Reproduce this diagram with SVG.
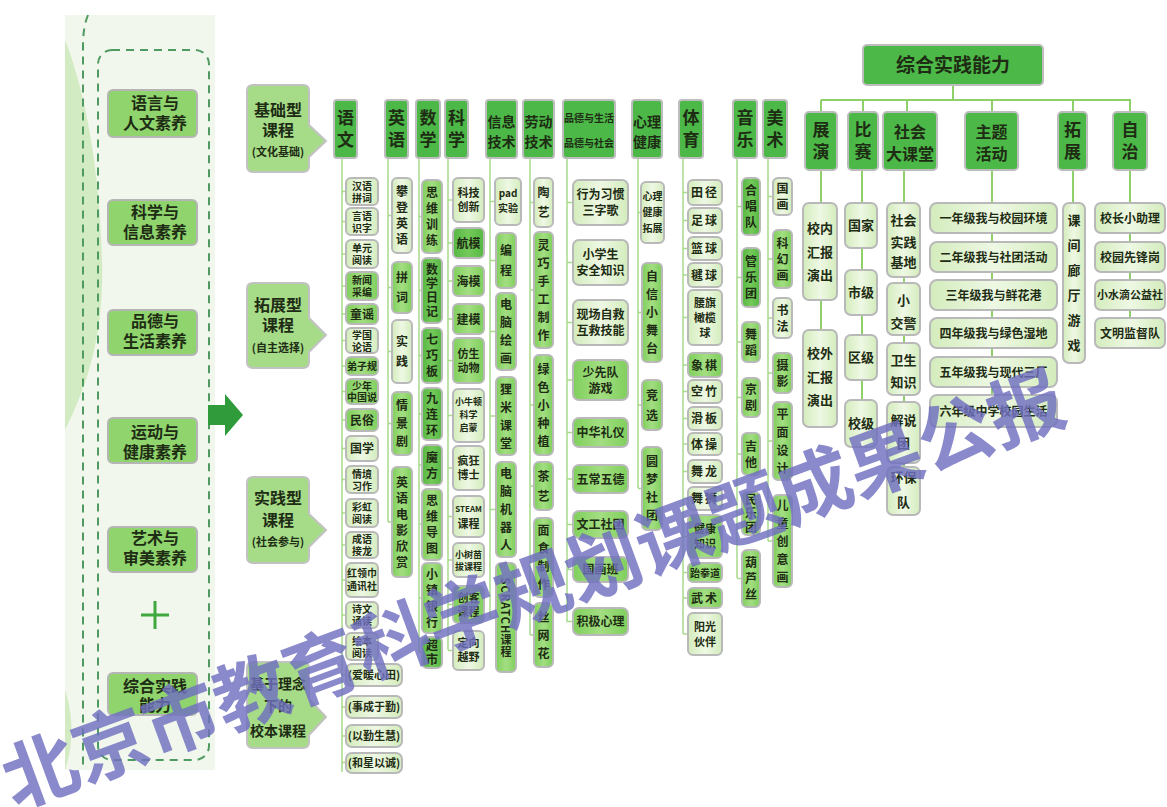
<svg xmlns="http://www.w3.org/2000/svg" width="1167" height="807" viewBox="0 0 1167 807">
<defs>
<linearGradient id="gl" x1="0" y1="0" x2="1" y2="0"><stop offset="0" stop-color="#d3ecbc"/><stop offset="0.5" stop-color="#eef8e4"/><stop offset="1" stop-color="#d3ecbc"/></linearGradient>
<linearGradient id="gm" x1="0" y1="0" x2="1" y2="0"><stop offset="0" stop-color="#7fcf5c"/><stop offset="0.5" stop-color="#a3de82"/><stop offset="1" stop-color="#7fcf5c"/></linearGradient>
<linearGradient id="gd" x1="0" y1="0" x2="1" y2="0"><stop offset="0" stop-color="#56b843"/><stop offset="0.5" stop-color="#74c95a"/><stop offset="1" stop-color="#56b843"/></linearGradient>
<style>
text{font-family:"Noto Sans CJK SC","Noto Sans",sans-serif;fill:#1e2c14;font-weight:700;text-anchor:middle}
.hd{fill:#4cb848;stroke:#bdbdbd;stroke-width:2}
.it{fill:url(#gl);stroke:#b9b9b9;stroke-width:2}
.im{fill:url(#gm);stroke:#b9b9b9;stroke-width:2}
.id{fill:url(#gd);stroke:#b9b9b9;stroke-width:2}
.lb{fill:#8fd46c;stroke:#b5b5b5;stroke-width:2}
.bb{fill:#a6dc88;stroke:#c2c2c2;stroke-width:2}
.ln{stroke:#a8da8c;stroke-width:1.5;fill:none}
.rl{stroke:#8fd06a;stroke-width:2;fill:none}
.dash{fill:none;stroke:#4f9a60;stroke-width:2;stroke-dasharray:8 6}
.v{writing-mode:vertical-rl;font-size:12px}
.v2{letter-spacing:2px}.v4{letter-spacing:4px}.v6{letter-spacing:6px}.v8{letter-spacing:8px}
.s{font-size:11px}.s10{font-size:10px}.s9{font-size:9px}.s12{font-size:12px}.s13{font-size:13px}
.hv{writing-mode:vertical-rl;font-size:17px;letter-spacing:5px}
.h14{font-size:14px}
.lt{font-size:16px}
.bt{font-size:16px}
</style>
</defs>
<rect width="1167" height="807" fill="#ffffff"/>

<g id="left-panel">
<rect x="65" y="15" width="150" height="755" fill="#f1f7ec"/>
<path d="M65 40 C85 90 100 170 102 260 C104 330 90 380 65 430 Z" fill="#d3ebc3"/>
<path d="M65 690 C75 720 72 750 65 770 Z" fill="#d3ebc3"/>
<path class="dash" d="M88 15 C84 25 83 35 83 47 V770"/>
<rect class="dash" x="98" y="50" width="111" height="710" rx="14"/>
</g>

<g id="n-yuyan"><rect class="lb" x="108" y="90" width="89" height="47" rx="5"/><text class="lt" x="155" y="109">语言与<tspan x="155" y="129">人文素养</tspan></text></g>
<g id="n-kexue"><rect class="lb" x="108" y="200" width="89" height="45" rx="5"/><text class="lt" x="155" y="218">科学与<tspan x="155" y="238">信息素养</tspan></text></g>
<g id="n-pinde"><rect class="lb" x="108" y="310" width="89" height="45" rx="5"/><text class="lt" x="155" y="327">品德与<tspan x="155" y="347">生活素养</tspan></text></g>
<g id="n-yundong"><rect class="lb" x="108" y="418" width="89" height="45" rx="5"/><text class="lt" x="155" y="438">运动与<tspan x="155" y="458">健康素养</tspan></text></g>
<g id="n-yishu"><rect class="lb" x="108" y="527" width="89" height="45" rx="5"/><text class="lt" x="155" y="544">艺术与<tspan x="155" y="564">审美素养</tspan></text></g>
<g id="n-plus"><path d="M141 615 H169 M155 601 V629" stroke="#3fa83f" stroke-width="3"/></g>
<g id="n-zonghe"><rect class="lb" x="108" y="673" width="89" height="42" rx="5"/><text class="lt" x="155" y="692">综合实践<tspan x="155" y="711">能力</tspan></text></g>

<g id="big-arrow"><path d="M208 405 H225 V394 L243 415 L225 436 V425 H208 Z" fill="#2f9b3b"/></g>

<g id="b-jichu"><path class="bb" d="M253 85 H303 Q309 85 309 91 V125 L326 141 L309 157 V166 Q309 172 303 172 H253 Q247 172 247 166 V91 Q247 85 253 85 Z"/><text class="bt" x="278" y="116">基础型<tspan x="278" y="136">课程</tspan><tspan x="278" y="156" style="font-size:11px">(文化基础)</tspan></text></g>
<g id="b-tuozhan"><path class="bb" d="M253 283 H303 Q309 283 309 289 V318 L326 335 L309 352 V362 Q309 368 303 368 H253 Q247 368 247 362 V289 Q247 283 253 283 Z"/><text class="bt" x="278" y="311">拓展型<tspan x="278" y="331">课程</tspan><tspan x="278" y="352" style="font-size:11px">(自主选择)</tspan></text></g>
<g id="b-shijian"><path class="bb" d="M253 477 H303 Q309 477 309 483 V514 L326 530 L309 547 V557 Q309 563 303 563 H253 Q247 563 247 557 V483 Q247 477 253 477 Z"/><text class="bt" x="278" y="504">实践型<tspan x="278" y="526">课程</tspan><tspan x="278" y="546" style="font-size:11px">(社会参与)</tspan></text></g>
<g id="b-xiaoben"><path class="bb" d="M253 662 H303 Q309 662 309 668 V699 L326 717 L309 735 V742 Q309 748 303 748 H253 Q247 748 247 742 V668 Q247 662 253 662 Z"/><text x="278" y="689" style="font-size:14px">基于理念<tspan x="278" y="711">下的</tspan><tspan x="278" y="736">校本课程</tspan></text></g>

<g id="connectors">
<path class="ln" d="M342 158V772 M388 158V522 M419 158V652 M448 158V650 M490 158V618 M530 158V635 M567 158V622 M638 158V488 M683 158V634 M737 158V578 M768 158V541"/>
<path class="ln" d="M342 191.5H346M342 221.5H346M342 254H346M342 286H346M342 314H346M342 340.5H346M342 366H346M342 391.5H346M342 420H346M342 448.5H346M342 479.5H346M342 513H346M342 545H346M342 580H346M342 615H346M342 646.5H346M342 675H346M342 707H346M342 736H346M342 762.5H346
M388 215.5H392M388 287.5H392M388 351.5H392M388 423.5H392M388 522H392
M419 216.5H422M419 290.5H422M419 355.5H422M419 414H422M419 465H422M419 524H422M419 598H422M419 652.5H422
M448 200H453M448 243H453M448 281H453M448 319H453M448 360.5H453M448 415.5H453M448 468H453M448 516.5H453M448 560H453M448 604.5H453M448 650.5H453
M490 201.5H495M490 260.5H496M490 331.5H496M490 416H496M490 509.5H496M490 617.5H496
M530 202.5H534M530 290H534M530 405H534M530 486H534M530 557.5H534M530 635H534
M567 202.5H573M567 262.5H573M567 322.5H573M567 380H573M567 432.5H573M567 479H573M567 524.5H573M567 569.5H573M567 621.5H573
M638 212.5H641M638 312.5H642M638 405H642M638 488.5H642
M683 192.5H688M683 220.5H688M683 248.5H688M683 275H688M683 317.5H688M683 365H688M683 391.5H688M683 418.5H688M683 444H688M683 471.5H688M683 498.5H688M683 536.5H688M683 572.5H688M683 598H688M683 634H688
M737 206.5H742M737 277.5H742M737 342H742M737 397.5H742M737 454H742M737 513.5H742M737 578.5H742
M768 196.5H773M768 259H773M768 318H773M768 373H773M768 441H773M768 541H773"/>
<path class="rl" d="M953 85V100 M821 100H1131 M821 100V112 M863 100V112 M907 100V112 M992 100V112 M1073 100V112 M1130 100V112 M821 170V203 M821 300V330 M862 170V447 M904 170V515 M992 170V427 M1073 170V203 M1130 170V348"/>
</g>

<g id="h-yuwen"><rect class="hd" x="334" y="100" width="23" height="58" rx="3"/><text class="hv" x="345.5" y="131.5">语文</text></g>
<g id="h-yingyu"><rect class="hd" x="385" y="100" width="23" height="58" rx="3"/><text class="hv" x="396.5" y="131.5">英语</text></g>
<g id="h-shuxue"><rect class="hd" x="416" y="100" width="24" height="58" rx="3"/><text class="hv" x="428" y="131.5">数学</text></g>
<g id="h-kexue"><rect class="hd" x="445" y="100" width="23" height="58" rx="3"/><text class="hv" x="456.5" y="131.5">科学</text></g>
<g id="h-xinxi"><rect class="hd" x="486" y="100" width="31" height="58" rx="3"/><text class="h14" x="501.5" y="127">信息<tspan x="501.5" y="147">技术</tspan></text></g>
<g id="h-laodong"><rect class="hd" x="523" y="100" width="31" height="58" rx="3"/><text class="h14" x="538.5" y="127">劳动<tspan x="538.5" y="147">技术</tspan></text></g>
<g id="h-pinde"><rect class="hd" x="563" y="100" width="52" height="58" rx="3"/><text class="s10" x="589" y="122">品德与生活<tspan x="589" y="147">品德与社会</tspan></text></g>
<g id="h-xinli"><rect class="hd" x="632" y="100" width="30" height="58" rx="3"/><text class="h14" x="647" y="127">心理<tspan x="647" y="147">健康</tspan></text></g>
<g id="h-tiyu"><rect class="hd" x="679" y="100" width="24" height="58" rx="3"/><text class="hv" x="691" y="131.5">体育</text></g>
<g id="h-yinyue"><rect class="hd" x="733" y="100" width="24" height="58" rx="3"/><text class="hv" x="745" y="131.5">音乐</text></g>
<g id="h-meishu"><rect class="hd" x="763" y="100" width="24" height="58" rx="3"/><text class="hv" x="775" y="131.5">美术</text></g>

<g id="yw1"><rect class="it" x="346" y="178" width="32" height="27" rx="5"/><text class="s10" x="362" y="189.5">汉语<tspan x="362" y="201.5">拼词</tspan></text></g>
<g id="yw2"><rect class="it" x="346" y="208" width="32" height="27" rx="5"/><text class="s10" x="362" y="219.5">言语<tspan x="362" y="231.5">识字</tspan></text></g>
<g id="yw3"><rect class="it" x="346" y="240" width="32" height="28" rx="5"/><text class="s10" x="362" y="252">单元<tspan x="362" y="264">阅读</tspan></text></g>
<g id="yw4"><rect class="im" x="346" y="272" width="32" height="28" rx="5"/><text class="s10" x="362" y="284">新闻<tspan x="362" y="296">采编</tspan></text></g>
<g id="yw5"><rect class="im" x="346" y="304" width="32" height="20" rx="5"/><text class="s12" x="362" y="318.5">童谣</text></g>
<g id="yw6"><rect class="it" x="346" y="328" width="32" height="25" rx="5"/><text class="s10" x="362" y="338.5">学国<tspan x="362" y="350.5">论语</tspan></text></g>
<g id="yw7"><rect class="im" x="346" y="357" width="32" height="18" rx="5"/><text class="s10" x="362" y="369.5">弟子规</text></g>
<g id="yw8"><rect class="im" x="346" y="379" width="32" height="25" rx="5"/><text class="s10" x="362" y="389.5">少年<tspan x="362" y="401">中国说</tspan></text></g>
<g id="yw9"><rect class="im" x="346" y="409" width="32" height="22" rx="5"/><text class="s12" x="362" y="424.5">民俗</text></g>
<g id="yw10"><rect class="it" x="346" y="436" width="32" height="25" rx="5"/><text class="s12" x="362" y="453">国学</text></g>
<g id="yw11"><rect class="it" x="346" y="466" width="32" height="27" rx="5"/><text class="s10" x="362" y="477.5">情境<tspan x="362" y="489.5">习作</tspan></text></g>
<g id="yw12"><rect class="it" x="346" y="499" width="32" height="28" rx="5"/><text class="s10" x="362" y="511">彩虹<tspan x="362" y="523">阅读</tspan></text></g>
<g id="yw13"><rect class="it" x="346" y="532" width="32" height="26" rx="5"/><text class="s10" x="362" y="543">成语<tspan x="362" y="555">接龙</tspan></text></g>
<g id="yw14"><rect class="it" x="346" y="563" width="32" height="34" rx="5"/><text class="s10" x="362" y="577">红领巾<tspan x="362" y="590">通讯社</tspan></text></g>
<g id="yw15"><rect class="it" x="346" y="602" width="32" height="26" rx="5"/><text class="s10" x="362" y="613">诗文<tspan x="362" y="625">诵读</tspan></text></g>
<g id="yw16"><rect class="it" x="346" y="633" width="32" height="27" rx="5"/><text class="s10" x="362" y="644.5">绘本<tspan x="362" y="656.5">阅读</tspan></text></g>
<g id="xb1"><rect class="it" x="346" y="664" width="56" height="22" rx="6"/><text class="s" x="374" y="679">(爱暖心田)</text></g>
<g id="xb2"><rect class="it" x="346" y="696" width="56" height="22" rx="6"/><text class="s" x="374" y="711">(事成于勤)</text></g>
<g id="xb3"><rect class="it" x="346" y="725" width="56" height="22" rx="6"/><text class="s" x="374" y="740">(以勤生慧)</text></g>
<g id="xb4"><rect class="it" x="346" y="753" width="56" height="20" rx="6"/><text class="s" x="374" y="767">(和星以诚)</text></g>

<g id="yy1"><rect class="it" x="392" y="178" width="20" height="75" rx="5"/><text class="v v4" x="402" y="217.5">攀登英语</text></g>
<g id="yy2"><rect class="im" x="392" y="262" width="20" height="51" rx="5"/><text class="v v8" x="402" y="291.5">拼词</text></g>
<g id="yy3"><rect class="it" x="392" y="320" width="20" height="63" rx="5"/><text class="v v8" x="402" y="355.5">实践</text></g>
<g id="yy4"><rect class="im" x="392" y="392" width="20" height="63" rx="5"/><text class="v v6" x="402" y="426.5">情景剧</text></g>
<g id="yy5"><rect class="im" x="392" y="467" width="20" height="110" rx="5"/><text class="v v4" x="402" y="524">英语电影欣赏</text></g>

<g id="sx1"><rect class="im" x="422" y="180" width="20" height="73" rx="5"/><text class="v v4" x="432" y="218.5">思维训练</text></g>
<g id="sx2"><rect class="id" x="422" y="258" width="20" height="65" rx="5"/><text class="v v2" x="432" y="291.5">数学日记</text></g>
<g id="sx3"><rect class="id" x="422" y="328" width="20" height="55" rx="5"/><text class="v v4" x="432" y="357.5">七巧板</text></g>
<g id="sx4"><rect class="id" x="422" y="388" width="20" height="52" rx="5"/><text class="v v4" x="432" y="416">九连环</text></g>
<g id="sx5"><rect class="id" x="422" y="445" width="20" height="40" rx="5"/><text class="v v4" x="432" y="467">魔方</text></g>
<g id="sx6"><rect class="im" x="422" y="489" width="20" height="71" rx="5"/><text class="v v4" x="432" y="526">思维导图</text></g>
<g id="sx7"><rect class="im" x="422" y="563" width="20" height="70" rx="5"/><text class="v v4" x="432" y="600">小镇银行</text></g>
<g id="sx8"><rect class="id" x="422" y="637" width="20" height="31" rx="5"/><text class="v v2" x="432" y="653.5">超市</text></g>

<g id="kx1"><rect class="it" x="453" y="178" width="31" height="44" rx="5"/><text class="s" x="468.5" y="197">科技<tspan x="468.5" y="211">创新</tspan></text></g>
<g id="kx2"><rect class="id" x="453" y="228" width="31" height="30" rx="5"/><text class="s12" x="468.5" y="247.5">航模</text></g>
<g id="kx3"><rect class="im" x="453" y="266" width="31" height="30" rx="5"/><text class="s12" x="468.5" y="285.5">海模</text></g>
<g id="kx4"><rect class="im" x="453" y="304" width="31" height="30" rx="5"/><text class="s12" x="468.5" y="323.5">建模</text></g>
<g id="kx5"><rect class="im" x="453" y="338" width="31" height="45" rx="5"/><text class="s" x="468.5" y="357.5">仿生<tspan x="468.5" y="371.5">动物</tspan></text></g>
<g id="kx6"><rect class="it" x="453" y="389" width="31" height="53" rx="5"/><text class="s9" x="468.5" y="405">小牛顿<tspan x="468.5" y="418">科学</tspan><tspan x="468.5" y="431">启蒙</tspan></text></g>
<g id="kx7"><rect class="it" x="453" y="446" width="31" height="44" rx="5"/><text class="s" x="468.5" y="465">疯狂<tspan x="468.5" y="479">博士</tspan></text></g>
<g id="kx8"><rect class="it" x="453" y="496" width="31" height="41" rx="5"/><text class="s" x="468.5" y="512"><tspan style="font-size:8px">STEAM</tspan><tspan x="468.5" y="528">课程</tspan></text></g>
<g id="kx9"><rect class="it" x="453" y="543" width="31" height="34" rx="5"/><text class="s9" x="468.5" y="558">小树苗<tspan x="468.5" y="570">拔课程</tspan></text></g>
<g id="kx10"><rect class="im" x="453" y="586" width="31" height="37" rx="5"/><text class="s" x="468.5" y="602">创客<tspan x="468.5" y="616">课程</tspan></text></g>
<g id="kx11"><rect class="it" x="453" y="631" width="31" height="39" rx="5"/><text class="s" x="468.5" y="647">定向<tspan x="468.5" y="661">越野</tspan></text></g>

<g id="xx1"><rect class="it" x="495" y="178" width="26" height="47" rx="5"/><text class="s10" x="508" y="197">pad<tspan x="508" y="212">实验</tspan></text></g>
<g id="xx2"><rect class="im" x="496" y="233" width="20" height="55" rx="5"/><text class="v v8" x="506" y="264.5">编程</text></g>
<g id="xx3"><rect class="im" x="496" y="293" width="20" height="77" rx="5"/><text class="v v6" x="506" y="334.5">电脑绘画</text></g>
<g id="xx4"><rect class="im" x="496" y="377" width="20" height="78" rx="5"/><text class="v v6" x="506" y="419">狸米课堂</text></g>
<g id="xx5"><rect class="im" x="496" y="462" width="20" height="95" rx="5"/><text class="v v6" x="506" y="512.5">电脑机器人</text></g>
<g id="xx6"><rect class="im" x="496" y="563" width="20" height="109" rx="5"/><text class="v" x="506" y="618" style="font-size:11px;letter-spacing:1px">SCRATCH课程</text></g>

<g id="ld1"><rect class="it" x="534" y="178" width="19" height="49" rx="5"/><text class="v v8" x="543.5" y="206.5">陶艺</text></g>
<g id="ld2"><rect class="im" x="534" y="232" width="19" height="116" rx="5"/><text class="v v6" x="543.5" y="293">灵巧手工制作</text></g>
<g id="ld3"><rect class="im" x="534" y="355" width="19" height="100" rx="5"/><text class="v v6" x="543.5" y="408">绿色小种植</text></g>
<g id="ld4"><rect class="im" x="534" y="462" width="19" height="48" rx="5"/><text class="v v8" x="543.5" y="490">茶艺</text></g>
<g id="ld5"><rect class="im" x="534" y="518" width="19" height="79" rx="5"/><text class="v v6" x="543.5" y="560.5">面食制作</text></g>
<g id="ld6"><rect class="im" x="534" y="603" width="19" height="64" rx="5"/><text class="v v6" x="543.5" y="638">丝网花</text></g>

<g id="pd1"><rect class="it" x="573" y="180" width="55" height="45" rx="6"/><text class="s12" x="600.5" y="199">行为习惯<tspan x="600.5" y="215">三字歌</tspan></text></g>
<g id="pd2"><rect class="it" x="573" y="240" width="55" height="45" rx="6"/><text class="s12" x="600.5" y="259">小学生<tspan x="600.5" y="275">安全知识</tspan></text></g>
<g id="pd3"><rect class="it" x="573" y="300" width="55" height="45" rx="6"/><text class="s12" x="600.5" y="319">现场自救<tspan x="600.5" y="335">互救技能</tspan></text></g>
<g id="pd4"><rect class="im" x="573" y="360" width="55" height="40" rx="6"/><text class="s12" x="600.5" y="377">少先队<tspan x="600.5" y="393">游戏</tspan></text></g>
<g id="pd5"><rect class="im" x="573" y="418" width="55" height="29" rx="6"/><text class="s12" x="600.5" y="437">中华礼仪</text></g>
<g id="pd6"><rect class="im" x="573" y="465" width="55" height="28" rx="6"/><text class="s12" x="600.5" y="483.5">五常五德</text></g>
<g id="pd7"><rect class="im" x="573" y="511" width="55" height="27" rx="6"/><text class="s12" x="600.5" y="529">文工社团</text></g>
<g id="pd8"><rect class="im" x="573" y="557" width="55" height="25" rx="6"/><text class="s12" x="600.5" y="574">国画班</text></g>
<g id="pd9"><rect class="im" x="573" y="608" width="55" height="27" rx="6"/><text class="s12" x="600.5" y="626">积极心理</text></g>

<g id="xl1"><rect class="it" x="641" y="182" width="23" height="61" rx="5"/><text class="s10" x="652.5" y="200">心理<tspan x="652.5" y="216">健康</tspan><tspan x="652.5" y="232">拓展</tspan></text></g>
<g id="xl2"><rect class="im" x="642" y="263" width="20" height="99" rx="5"/><text class="v v6" x="652" y="315.5">自信小舞台</text></g>
<g id="xl3"><rect class="im" x="642" y="380" width="20" height="50" rx="5"/><text class="v v8" x="652" y="409">竞选</text></g>
<g id="xl4"><rect class="im" x="642" y="447" width="20" height="83" rx="5"/><text class="v v6" x="652" y="491.5">圆梦社团</text></g>

<g id="ty1"><rect class="it" x="688" y="180" width="34" height="25" rx="5"/><text class="s12" x="705" y="197" style="letter-spacing:2px">田径</text></g>
<g id="ty2"><rect class="it" x="688" y="208" width="34" height="25" rx="5"/><text class="s12" x="705" y="225" style="letter-spacing:2px">足球</text></g>
<g id="ty3"><rect class="it" x="688" y="237" width="34" height="23" rx="5"/><text class="s12" x="705" y="253" style="letter-spacing:2px">篮球</text></g>
<g id="ty4"><rect class="it" x="688" y="263" width="34" height="24" rx="5"/><text class="s12" x="705" y="279.5" style="letter-spacing:2px">毽球</text></g>
<g id="ty5"><rect class="it" x="688" y="290" width="34" height="55" rx="5"/><text class="s" x="705" y="307">腰旗<tspan x="705" y="322">橄榄</tspan><tspan x="705" y="337">球</tspan></text></g>
<g id="ty6"><rect class="im" x="688" y="353" width="34" height="24" rx="5"/><text class="s12" x="705" y="369.5" style="letter-spacing:2px">象棋</text></g>
<g id="ty7"><rect class="it" x="688" y="380" width="34" height="23" rx="5"/><text class="s12" x="705" y="396" style="letter-spacing:2px">空竹</text></g>
<g id="ty8"><rect class="it" x="688" y="407" width="34" height="23" rx="5"/><text class="s12" x="705" y="423" style="letter-spacing:2px">滑板</text></g>
<g id="ty9"><rect class="it" x="688" y="433" width="34" height="22" rx="5"/><text class="s12" x="705" y="448.5" style="letter-spacing:2px">体操</text></g>
<g id="ty10"><rect class="it" x="688" y="460" width="34" height="23" rx="5"/><text class="s12" x="705" y="476" style="letter-spacing:2px">舞龙</text></g>
<g id="ty11"><rect class="it" x="688" y="487" width="34" height="23" rx="5"/><text class="s12" x="705" y="503" style="letter-spacing:2px">舞狮</text></g>
<g id="ty12"><rect class="im" x="688" y="515" width="34" height="43" rx="5"/><text class="s" x="705" y="533">健康<tspan x="705" y="548">知识</tspan></text></g>
<g id="ty13"><rect class="im" x="688" y="563" width="34" height="19" rx="5"/><text class="s10" x="705" y="576.5">跆拳道</text></g>
<g id="ty14"><rect class="im" x="688" y="588" width="34" height="20" rx="5"/><text class="s12" x="705" y="602.5" style="letter-spacing:2px">武术</text></g>
<g id="ty15"><rect class="it" x="688" y="613" width="34" height="42" rx="5"/><text class="s" x="705" y="631">阳光<tspan x="705" y="646">伙伴</tspan></text></g>

<g id="yl1"><rect class="id" x="742" y="178" width="18" height="57" rx="5"/><text class="v v4" x="751" y="208.5">合唱队</text></g>
<g id="yl2"><rect class="id" x="742" y="248" width="18" height="59" rx="5"/><text class="v v4" x="751" y="279.5">管乐团</text></g>
<g id="yl3"><rect class="im" x="742" y="322" width="18" height="40" rx="5"/><text class="v v4" x="751" y="344">舞蹈</text></g>
<g id="yl4"><rect class="im" x="742" y="378" width="18" height="39" rx="5"/><text class="v v4" x="751" y="399.5">京剧</text></g>
<g id="yl5"><rect class="im" x="742" y="433" width="18" height="42" rx="5"/><text class="v v4" x="751" y="456">吉他</text></g>
<g id="yl6"><rect class="im" x="742" y="492" width="18" height="43" rx="5"/><text class="v v2" x="751" y="514.5">民乐团</text></g>
<g id="yl7"><rect class="im" x="742" y="550" width="18" height="57" rx="5"/><text class="v v4" x="751" y="580.5">葫芦丝</text></g>

<g id="ms1"><rect class="it" x="773" y="178" width="19" height="37" rx="5"/><text class="v v4" x="782.5" y="198.5">国画</text></g>
<g id="ms2"><rect class="im" x="773" y="230" width="19" height="58" rx="5"/><text class="v v4" x="782.5" y="261">科幻画</text></g>
<g id="ms3"><rect class="it" x="773" y="298" width="19" height="40" rx="5"/><text class="v v4" x="782.5" y="320">书法</text></g>
<g id="ms4"><rect class="im" x="773" y="353" width="19" height="40" rx="5"/><text class="v v4" x="782.5" y="375">摄影</text></g>
<g id="ms5"><rect class="im" x="773" y="402" width="19" height="78" rx="5"/><text class="v v6" x="782.5" y="444">平面设计</text></g>
<g id="ms6"><rect class="im" x="773" y="495" width="19" height="92" rx="5"/><text class="v v6" x="782.5" y="544">儿童创意画</text></g>

<g id="r-top"><rect class="hd" x="863" y="45" width="180" height="40" rx="4"/><text x="953" y="72" style="font-size:19px">综合实践能力</text></g>
<g id="r-zhanyan"><rect class="hd" x="805" y="112" width="32" height="58" rx="4"/><text class="hv" x="821" y="143.5">展演</text></g>
<g id="r-bisai"><rect class="hd" x="848" y="112" width="30" height="58" rx="4"/><text class="hv" x="863" y="143.5">比赛</text></g>
<g id="r-shehui"><rect class="hd" x="883" y="112" width="54" height="58" rx="4"/><text class="bt" x="910" y="138">社会<tspan x="910" y="160">大课堂</tspan></text></g>
<g id="r-zhuti"><rect class="hd" x="965" y="112" width="53" height="58" rx="4"/><text class="bt" x="991.5" y="138">主题<tspan x="991.5" y="160">活动</tspan></text></g>
<g id="r-tuozhan"><rect class="hd" x="1058" y="112" width="29" height="58" rx="4"/><text class="hv" x="1072.5" y="143.5">拓展</text></g>
<g id="r-zizhi"><rect class="hd" x="1113" y="112" width="34" height="58" rx="4"/><text class="hv" x="1130" y="143.5">自治</text></g>

<g id="zy1"><rect class="it" x="803" y="203" width="34" height="97" rx="6"/><text class="s13" x="820" y="233">校内<tspan x="820" y="257">汇报</tspan><tspan x="820" y="280">演出</tspan></text></g>
<g id="zy2"><rect class="it" x="803" y="330" width="34" height="97" rx="6"/><text class="s13" x="820" y="358">校外<tspan x="820" y="382">汇报</tspan><tspan x="820" y="405">演出</tspan></text></g>
<g id="bs1"><rect class="it" x="845" y="203" width="32" height="45" rx="6"/><text class="s13" x="861" y="230">国家</text></g>
<g id="bs2"><rect class="it" x="845" y="270" width="32" height="45" rx="6"/><text class="s13" x="861" y="297">市级</text></g>
<g id="bs3"><rect class="it" x="845" y="335" width="32" height="45" rx="6"/><text class="s13" x="861" y="362">区级</text></g>
<g id="bs4"><rect class="it" x="845" y="400" width="32" height="47" rx="6"/><text class="s13" x="861" y="428">校级</text></g>
<g id="sh1"><rect class="it" x="887" y="203" width="33" height="74" rx="6"/><text class="s13" x="903.5" y="225">社会<tspan x="903.5" y="247">实践</tspan><tspan x="903.5" y="267">基地</tspan></text></g>
<g id="sh2"><rect class="it" x="887" y="283" width="33" height="52" rx="6"/><text class="s13" x="903.5" y="305">小<tspan x="903.5" y="328">交警</tspan></text></g>
<g id="sh3"><rect class="it" x="887" y="343" width="33" height="52" rx="6"/><text class="s13" x="903.5" y="365">卫生<tspan x="903.5" y="387">知识</tspan></text></g>
<g id="sh4"><rect class="it" x="887" y="402" width="33" height="61" rx="6"/><text class="s13" x="903.5" y="425">解说<tspan x="903.5" y="448">团</tspan></text></g>
<g id="sh5"><rect class="it" x="887" y="467" width="33" height="48" rx="6"/><text class="s13" x="903.5" y="482">环保<tspan x="903.5" y="507">队</tspan></text></g>
<g id="zt1"><rect class="it" x="930" y="203" width="127" height="30" rx="7"/><text class="s12" x="993.5" y="222.5">一年级我与校园环境</text></g>
<g id="zt2"><rect class="it" x="930" y="242" width="127" height="30" rx="7"/><text class="s12" x="993.5" y="261.5">二年级我与社团活动</text></g>
<g id="zt3"><rect class="it" x="930" y="280" width="127" height="30" rx="7"/><text class="s12" x="993.5" y="299.5">三年级我与鲜花港</text></g>
<g id="zt4"><rect class="it" x="930" y="318" width="127" height="30" rx="7"/><text class="s12" x="993.5" y="337.5">四年级我与绿色湿地</text></g>
<g id="zt5"><rect class="it" x="930" y="357" width="127" height="30" rx="7"/><text class="s12" x="993.5" y="376.5">五年级我与现代三厂</text></g>
<g id="zt6"><rect class="it" x="930" y="395" width="127" height="32" rx="7"/><text class="s12" x="993.5" y="415.5">六年级中学校园生活</text></g>
<g id="tz1"><rect class="it" x="1063" y="203" width="22" height="160" rx="6"/><text class="v" x="1074" y="289" style="font-size:13px;letter-spacing:12px">课间廊厅游戏</text></g>
<g id="zz1"><rect class="it" x="1095" y="203" width="70" height="30" rx="6"/><text class="s12" x="1130" y="222.5">校长小助理</text></g>
<g id="zz2"><rect class="it" x="1095" y="242" width="70" height="30" rx="6"/><text class="s12" x="1130" y="261.5">校园先锋岗</text></g>
<g id="zz3"><rect class="it" x="1095" y="280" width="70" height="30" rx="6"/><text class="s" x="1130" y="299">小水滴公益社</text></g>
<g id="zz4"><rect class="it" x="1095" y="318" width="70" height="30" rx="6"/><text class="s12" x="1130" y="337.5">文明监督队</text></g>

<g id="watermark" transform="translate(40 770) rotate(-20.2)"><text x="-37.5" y="28" style="font-size:75px;font-weight:700;fill:#6f6fc0;fill-opacity:0.82;text-anchor:start">北京市教育科学规划课题成果公报</text></g>
</svg>
